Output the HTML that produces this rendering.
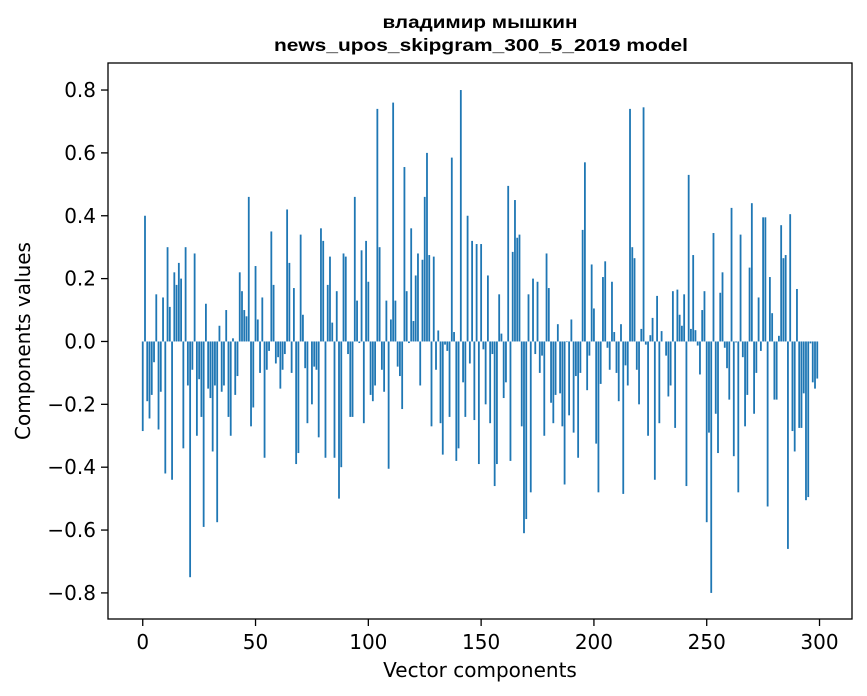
<!DOCTYPE html>
<html><head><meta charset="utf-8"><style>
html,body{margin:0;padding:0;background:#fff;}
svg{display:block;font-family:"DejaVu Sans","Liberation Sans",sans-serif;}
</style></head><body>
<svg id="chart" width="867" height="696" viewBox="0 0 867 696" xmlns="http://www.w3.org/2000/svg">
<rect width="867" height="696" fill="#fff"/>
<text x="480" y="28" text-anchor="middle" font-size="17.5" font-weight="bold" font-family="Liberation Sans, sans-serif" textLength="195" lengthAdjust="spacingAndGlyphs">владимир мышкин</text>
<text x="481" y="51" text-anchor="middle" font-size="17.5" font-weight="bold" font-family="Liberation Sans, sans-serif" textLength="414" lengthAdjust="spacingAndGlyphs">news_upos_skipgram_300_5_2019 model</text>
<g id="bars"></g>
<g id="axes"></g>
<rect x="108" y="63" width="744" height="556" fill="none" stroke="#000" stroke-width="1.3"/>
<text x="480" y="677" text-anchor="middle" font-size="20">Vector components</text>
<text transform="translate(30,341) rotate(-90)" text-anchor="middle" font-size="20">Components values</text>
</svg>
<script>
const components1 = [-0.285,0.40,-0.19,-0.245,-0.17,-0.066,0.15,-0.28,-0.16,0.14,-0.42,0.30,0.11,-0.44,0.22,0.18,0.25,0.20,-0.34,0.30,-0.14,-0.75,-0.09,0.28,-0.30,-0.12,-0.24,-0.59,0.12,-0.15,-0.18,-0.35,-0.14,-0.575,0.05,-0.16,-0.14,0.10,-0.24,-0.30,0.01,-0.17,-0.11,0.22,0.16,0.10,0.08,0.46,-0.27,-0.21];
const components2 = [0.24,0.07,-0.10,0.14,-0.37,-0.09,-0.03,0.35,0.18,-0.07,-0.05,-0.15,-0.09,-0.04,0.42,0.25,-0.10,0.17,-0.39,-0.355,0.34,0.085,-0.085,-0.26,0.0,-0.20,-0.08,-0.09,-0.305,0.36,0.32,-0.37,0.18,0.27,0.06,-0.37,0.16,-0.50,-0.40,0.28,0.27,-0.04,-0.24,-0.24,0.46,0.13,-0.005,0.29,-0.26,0.32];
const components3 = [0.19,-0.17,-0.19,-0.14,0.74,0.30,-0.09,-0.16,0.13,-0.405,0.07,0.76,0.13,-0.08,-0.11,-0.215,0.555,0.16,-0.005,0.36,0.065,0.21,0.28,-0.14,0.26,0.46,0.60,0.275,-0.27,0.27,-0.09,0.035,-0.26,-0.36,-0.01,-0.03,-0.24,0.585,0.03,-0.38,-0.34,0.80,-0.13,-0.24,0.40,-0.07,0.32,-0.25,0.31,-0.39];
const components4 = [0.31,-0.025,-0.20,0.21,-0.26,-0.04,-0.46,-0.39,0.15,0.025,-0.18,-0.13,0.495,-0.38,0.285,0.45,0.33,0.34,-0.27,-0.61,-0.565,0.15,-0.48,0.20,-0.04,0.19,-0.10,-0.045,-0.30,0.28,0.17,-0.195,-0.26,-0.17,0.055,-0.165,-0.27,-0.455,-0.002,-0.235,0.07,-0.29,-0.11,-0.37,-0.10,0.355,0.57,-0.155,-0.045,0.245];
const components5 = [0.105,-0.325,-0.48,-0.135,0.205,0.255,-0.02,-0.09,0.19,0.03,-0.10,-0.19,0.055,-0.485,-0.076,-0.14,0.74,0.30,0.265,-0.09,-0.20,0.04,0.745,-0.01,-0.30,0.02,0.075,-0.44,0.145,-0.26,0.033,0.0,-0.045,-0.175,-0.14,0.16,-0.275,0.165,0.085,0.05,0.15,-0.46,0.53,0.04,0.275,0.036,-0.013,-0.105,0.10,0.16];
const components6 = [-0.575,-0.29,-0.80,0.345,-0.23,-0.355,0.155,0.22,-0.02,-0.085,-0.185,0.425,-0.365,-0.003,-0.48,0.34,-0.05,-0.27,-0.17,0.235,0.44,-0.23,-0.10,0.14,-0.03,0.395,0.395,-0.525,0.205,0.09,-0.185,-0.185,0.018,0.37,0.265,0.275,-0.66,0.405,-0.285,-0.35,0.167,-0.275,-0.275,-0.165,-0.505,-0.495,-0.006,-0.13,-0.15,-0.118];
const values = components1.concat(components2, components3, components4, components5, components6);
const xTicks = [0,50,100,150,200,250,300];
const yTicks = [-0.8,-0.6,-0.4,-0.2,0.0,0.2,0.4,0.6,0.8];
const yTickLabels = ["\u22120.8","\u22120.6","\u22120.4","\u22120.2","0.0","0.2","0.4","0.6","0.8"];

const L=108,R=852,T=63,B=619;
const xMin=-15.4,xMax=314.4,yMin=-0.883,yMax=0.886;
function xs(v){return L+(v-xMin)/(xMax-xMin)*(R-L);}
function ys(v){return B-(v-yMin)/(yMax-yMin)*(B-T);}
const NS="http://www.w3.org/2000/svg";
const bars=document.getElementById('bars');
values.forEach((v,i)=>{
  const r=document.createElementNS(NS,'rect');
  const x0=xs(i-0.4),x1=xs(i+0.4);
  const y0=ys(Math.max(v,0)),y1=ys(Math.min(v,0));
  r.setAttribute('x',x0);r.setAttribute('width',x1-x0);
  r.setAttribute('y',y0);r.setAttribute('height',Math.max(y1-y0,0.01));
  r.setAttribute('fill','#1f77b4');
  
  
  bars.appendChild(r);
});
const axes=document.getElementById('axes');
xTicks.forEach(t=>{
  const x=xs(t);
  const l=document.createElementNS(NS,'line');
  l.setAttribute('x1',x);l.setAttribute('x2',x);l.setAttribute('y1',B);l.setAttribute('y2',B+7);
  l.setAttribute('stroke','#000');l.setAttribute('stroke-width','1.3');
  
  
  axes.appendChild(l);
  const tx=document.createElementNS(NS,'text');
  tx.setAttribute('x',x);tx.setAttribute('y',B+30);tx.setAttribute('text-anchor','middle');tx.setAttribute('font-size','20');
  tx.textContent=String(t);
  
  
  axes.appendChild(tx);
});
yTicks.forEach((t,i)=>{
  const y=ys(t);
  const l=document.createElementNS(NS,'line');
  l.setAttribute('x1',L-7);l.setAttribute('x2',L);l.setAttribute('y1',y);l.setAttribute('y2',y);
  l.setAttribute('stroke','#000');l.setAttribute('stroke-width','1.3');
  
  
  axes.appendChild(l);
  const tx=document.createElementNS(NS,'text');
  tx.setAttribute('x',L-12);tx.setAttribute('y',y+7);tx.setAttribute('text-anchor','end');tx.setAttribute('font-size','20');
  tx.textContent=yTickLabels[i];
  
  
  axes.appendChild(tx);
});
</script>
</body></html>
